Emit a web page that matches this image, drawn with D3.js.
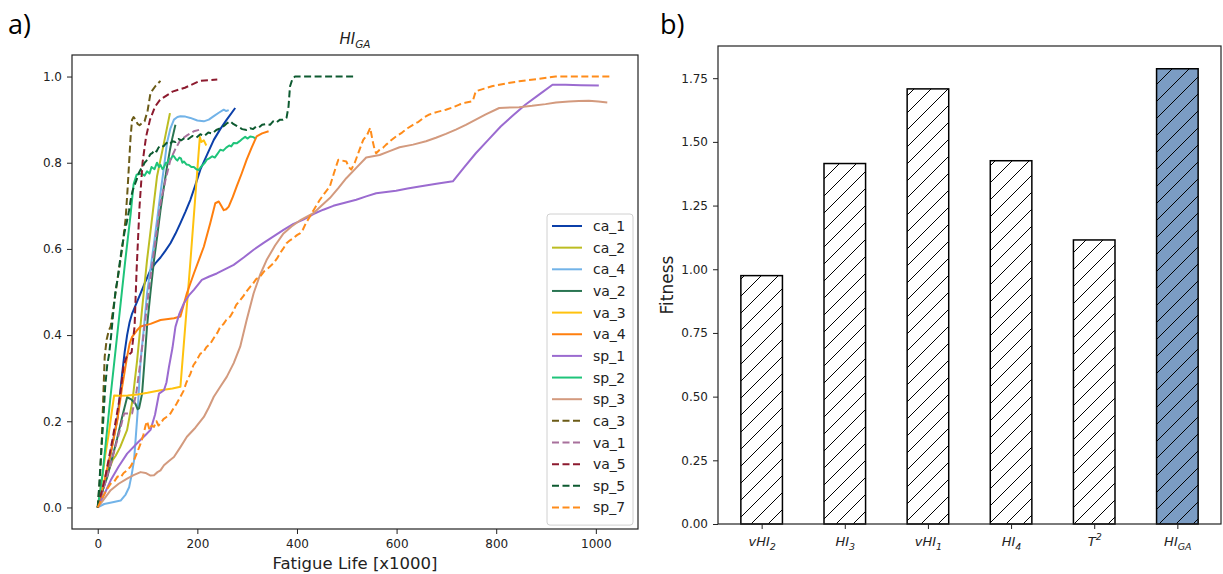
<!DOCTYPE html>
<html><head><meta charset="utf-8">
<script src="https://cdn.jsdelivr.net/npm/d3@7"></script>
<style>
body{margin:0;background:#fff}
svg{display:block}
text{font-family:"DejaVu Sans",sans-serif;fill:#222}
</style>
</head><body>
<svg id="chart" width="1223" height="574"></svg>
<script>
// ---------- DATA: panel a) ----------
const seriesNames = ["ca_1","ca_2","ca_4","va_2","va_3","va_4","sp_1","sp_2","sp_3","ca_3","va_1","va_5","sp_5","sp_7"];
const ca_1 = [[0,0],[10,0.04],[20,0.09],[30,0.15],[40,0.21],[49,0.31],[54,0.36],[59,0.40],[64,0.43],[69,0.45],[78,0.475],[86,0.497],[96,0.525],[106,0.551],[116,0.567],[126,0.58],[136,0.596],[146,0.613],[156,0.635],[166,0.66],[176,0.686],[186,0.714],[196,0.748],[206,0.784],[220,0.82],[233,0.853],[246,0.878],[259,0.90],[276,0.927]];
const ca_2 = [[0,0],[10,0.04],[20,0.08],[30,0.11],[36,0.12],[45,0.14],[59,0.18],[70,0.25],[79,0.34],[89,0.46],[99,0.574],[109,0.67],[119,0.768],[133,0.846],[145,0.915]];
const ca_4 = [[0,0],[13,0.008],[30,0.012],[46,0.016],[56,0.03],[63,0.047],[68,0.075],[73,0.11],[80,0.22],[86,0.34],[93,0.42],[99,0.497],[106,0.555],[113,0.613],[120,0.675],[126,0.73],[133,0.79],[139,0.846],[146,0.88],[153,0.9],[160,0.906],[166,0.908],[176,0.907],[186,0.904],[200,0.898],[213,0.896],[223,0.90],[233,0.908],[243,0.916],[253,0.923],[258,0.92],[263,0.922]];
const va_2 = [[0,0],[10,0.04],[19,0.07],[29,0.115],[39,0.16],[49,0.21],[59,0.256],[68,0.25],[76,0.24],[80,0.228],[83,0.23],[89,0.264],[94,0.34],[99,0.42],[106,0.5],[113,0.574],[120,0.635],[126,0.69],[133,0.745],[139,0.79],[145,0.83],[149,0.853],[156,0.888]];
const va_3 = [[0,0],[8,0.06],[15,0.12],[22,0.17],[28,0.22],[33,0.26],[45,0.259],[60,0.26],[80,0.262],[100,0.266],[126,0.272],[150,0.276],[166,0.28],[186,0.57],[205,0.86],[208,0.848],[213,0.852],[218,0.84]];
const va_4 = [[0,0],[13,0.06],[26,0.125],[39,0.2],[49,0.28],[59,0.35],[64,0.38],[69,0.396],[78,0.41],[86,0.42],[106,0.426],[126,0.435],[153,0.439],[166,0.443],[179,0.497],[193,0.543],[213,0.605],[226,0.66],[236,0.706],[243,0.71],[248,0.70],[253,0.69],[258,0.692],[263,0.698],[271,0.72],[279,0.745],[289,0.775],[299,0.807],[309,0.835],[319,0.861],[330,0.868],[343,0.873]];
const sp_1 = [[0,0],[13,0.03],[26,0.063],[42,0.095],[59,0.125],[80,0.15],[96,0.168],[106,0.18],[115,0.215],[123,0.264],[133,0.272],[138,0.29],[143,0.326],[150,0.37],[156,0.419],[164,0.45],[173,0.474],[183,0.492],[193,0.505],[209,0.528],[224,0.536],[239,0.543],[256,0.553],[273,0.563],[293,0.58],[313,0.598],[333,0.614],[353,0.629],[373,0.644],[393,0.658],[413,0.668],[433,0.681],[453,0.691],[473,0.70],[496,0.707],[519,0.714],[539,0.722],[559,0.729],[579,0.732],[599,0.735],[622,0.74],[646,0.745],[680,0.751],[713,0.757],[736,0.79],[759,0.822],[784,0.853],[809,0.884],[834,0.91],[859,0.935],[886,0.958],[913,0.981],[939,0.981],[970,0.98],[1006,0.979]];
const sp_2 = [[0,0],[10,0.08],[25,0.25],[40,0.41],[55,0.57],[66,0.68],[72,0.75],[78,0.772],[88,0.775],[94,0.77],[99,0.78],[104,0.775],[108,0.79],[114,0.785],[119,0.80],[123,0.79],[126,0.795],[130,0.785],[133,0.79],[137,0.80],[140,0.80],[144,0.81],[147,0.808],[150,0.816],[153,0.815],[157,0.808],[160,0.805],[164,0.812],[167,0.81],[170,0.80],[173,0.803],[178,0.796],[183,0.795],[188,0.79],[193,0.79],[198,0.785],[203,0.783],[207,0.79],[211,0.795],[215,0.80],[219,0.807],[224,0.81],[230,0.815],[235,0.812],[240,0.82],[243,0.825],[246,0.83],[252,0.828],[258,0.835],[264,0.84],[268,0.838],[273,0.846],[279,0.845],[285,0.85],[290,0.855],[296,0.86],[301,0.856],[306,0.861],[311,0.86],[316,0.857]];
const sp_3 = [[0,0],[13,0.02],[26,0.04],[42,0.055],[59,0.067],[72,0.075],[86,0.082],[96,0.08],[106,0.074],[113,0.075],[120,0.082],[126,0.086],[133,0.098],[143,0.108],[153,0.117],[166,0.14],[179,0.164],[196,0.185],[213,0.21],[223,0.232],[233,0.257],[246,0.28],[259,0.303],[273,0.335],[286,0.373],[299,0.435],[313,0.497],[326,0.54],[339,0.574],[356,0.608],[373,0.636],[389,0.652],[406,0.666],[433,0.683],[449,0.70],[466,0.718],[483,0.741],[499,0.764],[519,0.788],[539,0.812],[566,0.818],[586,0.827],[606,0.836],[633,0.842],[659,0.85],[679,0.858],[699,0.867],[719,0.877],[739,0.888],[759,0.90],[779,0.912],[806,0.927],[846,0.929],[872,0.932],[899,0.936],[920,0.94],[946,0.942],[966,0.943],[986,0.944],[1005,0.942],[1023,0.94]];
const ca_3 = [[0,0],[4,0.06],[8,0.15],[11,0.25],[14,0.35],[18,0.39],[22,0.41],[26,0.42],[31,0.46],[36,0.5],[41,0.54],[46,0.576],[51,0.62],[56,0.67],[60,0.74],[63,0.8],[66,0.86],[69,0.9],[72,0.906],[76,0.9],[80,0.89],[84,0.887],[90,0.893],[94,0.896],[100,0.92],[106,0.962],[116,0.978],[126,0.99]];
const va_1 = [[0,0],[13,0.05],[26,0.1],[40,0.16],[53,0.218],[60,0.218],[69,0.218],[78,0.27],[86,0.34],[96,0.44],[106,0.535],[116,0.62],[126,0.706],[136,0.76],[146,0.807],[156,0.832],[166,0.853],[180,0.864],[193,0.873],[206,0.877]];
const va_5 = [[0,0],[15,0.07],[30,0.16],[45,0.26],[52,0.33],[58,0.35],[68,0.36],[74,0.42],[78,0.55],[84,0.7],[90,0.8],[97,0.86],[105,0.9],[115,0.93],[125,0.946],[150,0.965],[175,0.974],[205,0.99],[240,0.993]];
const sp_5 = [[0,0],[3,0.05],[7,0.13],[11,0.2],[15,0.28],[19,0.33],[23,0.357],[27,0.4],[31,0.45],[36,0.505],[40,0.53],[45,0.575],[49,0.605],[54,0.64],[58,0.66],[63,0.69],[67,0.72],[70,0.735],[73,0.745],[78,0.76],[82,0.775],[86,0.784],[90,0.79],[94,0.8],[98,0.805],[102,0.812],[106,0.82],[110,0.823],[114,0.83],[118,0.826],[122,0.835],[126,0.84],[132,0.838],[138,0.846],[144,0.842],[150,0.85],[156,0.848],[162,0.855],[168,0.852],[175,0.858],[182,0.855],[190,0.862],[198,0.858],[206,0.866],[214,0.862],[222,0.87],[230,0.868],[238,0.876],[246,0.88],[254,0.886],[260,0.892],[266,0.896],[272,0.89],[278,0.886],[284,0.882],[290,0.878],[299,0.876],[306,0.88],[312,0.878],[318,0.884],[324,0.882],[330,0.888],[339,0.89],[346,0.888],[352,0.896],[358,0.893],[366,0.9],[372,0.9],[379,0.904],[383,0.93],[386,0.977],[391,0.995],[396,1.0],[450,1.0],[519,1.0]];
const sp_7 = [[0,0],[8,0.02],[15,0.035],[20,0.045],[26,0.055],[33,0.06],[40,0.072],[46,0.07],[52,0.08],[59,0.086],[66,0.095],[73,0.11],[80,0.13],[86,0.148],[92,0.17],[96,0.19],[99,0.2],[104,0.18],[108,0.19],[113,0.187],[118,0.2],[122,0.19],[126,0.195],[132,0.205],[138,0.21],[146,0.218],[152,0.23],[158,0.24],[166,0.257],[172,0.27],[178,0.29],[186,0.31],[192,0.33],[198,0.34],[206,0.357],[212,0.36],[218,0.372],[226,0.38],[234,0.395],[240,0.405],[246,0.419],[252,0.425],[258,0.435],[266,0.443],[272,0.455],[278,0.47],[286,0.481],[292,0.49],[298,0.5],[306,0.512],[312,0.52],[318,0.53],[326,0.536],[334,0.548],[342,0.555],[353,0.567],[360,0.578],[366,0.59],[372,0.6],[379,0.613],[386,0.62],[393,0.625],[400,0.632],[406,0.636],[412,0.645],[418,0.66],[426,0.675],[436,0.695],[446,0.714],[456,0.73],[466,0.745],[474,0.775],[483,0.807],[491,0.805],[499,0.803],[504,0.79],[509,0.784],[516,0.8],[524,0.825],[533,0.853],[541,0.865],[547,0.881],[552,0.85],[556,0.83],[559,0.822],[566,0.83],[573,0.835],[579,0.842],[589,0.852],[599,0.861],[611,0.87],[622,0.88],[633,0.888],[644,0.895],[655,0.905],[666,0.912],[682,0.918],[699,0.923],[712,0.928],[726,0.935],[740,0.94],[753,0.943],[756,0.955],[759,0.966],[776,0.972],[793,0.978],[820,0.984],[846,0.989],[880,0.994],[919,1.0],[970,1.0],[1033,1.0]];
const lineXTicks = [0,200,400,600,800,1000];
const lineYTicks = [0.0,0.2,0.4,0.6,0.8,1.0];

// ---------- DATA: panel b) ----------
const barLabelBase = ["vHI","HI","vHI","HI","T","HI"];
const barLabelSub  = ["2","3","1","4","","GA"];
const barLabelSup  = ["","","","","2",""];
const barValues    = [0.975, 1.415, 1.708, 1.426, 1.115, 1.787];
const barYTicks    = [0,0.25,0.5,0.75,1.0,1.25,1.5,1.75];

// ---------- styles ----------
const seriesData = [ca_1,ca_2,ca_4,va_2,va_3,va_4,sp_1,sp_2,sp_3,ca_3,va_1,va_5,sp_5,sp_7];
const seriesColors = ["#0b3fa9","#bcbd22","#72b3e8","#2a7552","#ffc20e","#ff7f0e","#9b6bd0","#1fc47a","#d39a7e","#6b5b17","#a8709c","#8c1a2e","#0d5a30","#ff8c1a"];
const seriesDashed = [false,false,false,false,false,false,false,false,false,true,true,true,true,true];

const svg = d3.select("#chart");

// panel labels
svg.append("text").attr("x",8).attr("y",34).style("font-family","'Open Sans',sans-serif").style("font-size","27px").style("fill","#000").text("a)");
svg.append("text").attr("x",660).attr("y",34).style("font-family","'Open Sans',sans-serif").style("font-size","27px").style("fill","#000").text("b)");

// ---------- panel a ----------
const A = {l:72, r:638, t:55, b:529};
const allX = seriesData.flat().map(d=>d[0]);
const xmin = d3.min(allX), xmax = d3.max(allX), xpad = (xmax-xmin)*0.05;
const xA = d3.scaleLinear().domain([xmin-xpad, xmax+xpad]).range([A.l, A.r]);
const yA = d3.scaleLinear().domain([-0.05, 1.05]).range([A.b, A.t]);

const gA = svg.append("g");
const clip = svg.append("clipPath").attr("id","clipA").append("rect").attr("x",A.l).attr("y",A.t).attr("width",A.r-A.l).attr("height",A.b-A.t);

const line = d3.line().x(d=>xA(d[0])).y(d=>yA(d[1]));
const linesG = gA.append("g").attr("clip-path","url(#clipA)");
seriesData.forEach((s,i)=>{
  linesG.append("path").datum(s).attr("d",line).attr("fill","none")
    .attr("stroke",seriesColors[i]).attr("stroke-width",2)
    .attr("stroke-linejoin","round")
    .attr("stroke-dasharray", seriesDashed[i] ? "7,3.5" : null);
});

const axA_x = gA.append("g").attr("transform",`translate(0,${A.b})`)
  .call(d3.axisBottom(xA).tickValues(lineXTicks).tickFormat(d3.format("d")).tickSize(5).tickPadding(5).tickSizeOuter(0));
const axA_y = gA.append("g").attr("transform",`translate(${A.l},0)`)
  .call(d3.axisLeft(yA).tickValues(lineYTicks).tickFormat(d3.format(".1f")).tickSize(5).tickPadding(5).tickSizeOuter(0));
[axA_x,axA_y].forEach(g=>{
  g.select(".domain").remove();
  g.selectAll("line").attr("stroke","#222");
  g.selectAll("text").style("font-size","12px").style("fill","#222");
});
gA.append("rect").attr("x",A.l).attr("y",A.t).attr("width",A.r-A.l).attr("height",A.b-A.t)
  .attr("fill","none").attr("stroke","#222").attr("stroke-width",1.2);

// title
const tA = gA.append("text").attr("x",(A.l+A.r)/2).attr("y",44).attr("text-anchor","middle")
  .style("font-size","15px").style("font-style","italic");
tA.append("tspan").text("HI");
tA.append("tspan").attr("dy",4).style("font-size","10.5px").text("GA");

gA.append("text").attr("x",(A.l+A.r)/2).attr("y",569).attr("text-anchor","middle")
  .style("font-size","16.5px").text("Fatigue Life [x1000]");

// legend
const leg = gA.append("g");
const L = {x:547, y:214, w:86, step:21.65};
leg.append("rect").attr("x",L.x).attr("y",L.y).attr("width",L.w).attr("height",L.step*seriesNames.length+8)
  .attr("rx",3).attr("fill","#fff").attr("fill-opacity",0.85).attr("stroke","#d0d0d0");
seriesNames.forEach((n,i)=>{
  const yy = L.y + 12 + i*L.step;
  leg.append("line").attr("x1",L.x+5).attr("x2",L.x+35).attr("y1",yy).attr("y2",yy)
    .attr("stroke",seriesColors[i]).attr("stroke-width",2)
    .attr("stroke-dasharray", seriesDashed[i] ? "7,3.5" : null);
  leg.append("text").attr("x",L.x+46).attr("y",yy+5).style("font-size","14px").text(n);
});

// ---------- panel b ----------
const B = {l:718, r:1221, t:46, b:524};
const xB = d3.scaleLinear().domain([-0.525, barValues.length-1+0.525]).range([B.l, B.r]);
const yB = d3.scaleLinear().domain([0, d3.max(barValues)*1.05]).range([B.b, B.t]);
const gB = svg.append("g");

const defs = svg.append("defs");
function hatch(id, bg){
  const p = defs.append("pattern").attr("id",id).attr("patternUnits","userSpaceOnUse")
    .attr("width",17).attr("height",17);
  p.append("rect").attr("width",17).attr("height",17).attr("fill",bg);
  p.append("path").attr("d","M0,17 L17,0 M-3,3 L3,-3 M14,20 L20,14")
    .attr("stroke","#000").attr("stroke-width",1);
}
hatch("hatchW","#fff");
hatch("hatchB","#7b9cc3");

const bw = 0.5;
barValues.forEach((v,i)=>{
  gB.append("rect")
    .attr("x",xB(i-bw/2)).attr("width",xB(i+bw/2)-xB(i-bw/2))
    .attr("y",yB(v)).attr("height",yB(0)-yB(v))
    .attr("fill", i===barValues.length-1 ? "url(#hatchB)" : "url(#hatchW)")
    .attr("stroke","#000").attr("stroke-width",1.5);
});

const axB_y = gB.append("g").attr("transform",`translate(${B.l},0)`)
  .call(d3.axisLeft(yB).tickValues(barYTicks).tickFormat(d3.format(".2f")).tickSize(5).tickPadding(5).tickSizeOuter(0));
const axB_x = gB.append("g").attr("transform",`translate(0,${B.b})`)
  .call(d3.axisBottom(xB).tickValues(d3.range(barValues.length)).tickFormat(()=>"").tickSize(5).tickPadding(5).tickSizeOuter(0));
[axB_x,axB_y].forEach(g=>{
  g.select(".domain").remove();
  g.selectAll("line").attr("stroke","#222");
  g.selectAll("text").style("font-size","12px").style("fill","#222");
});
axB_x.selectAll(".tick").each(function(d,i){
  const t = d3.select(this).select("text").style("font-size","13px").style("font-style","italic").attr("y",22).attr("dy",null);
  t.append("tspan").text(barLabelBase[i]);
  if(barLabelSub[i]) t.append("tspan").attr("dy",4).style("font-size","9.5px").text(barLabelSub[i]);
  if(barLabelSup[i]) t.append("tspan").attr("dy",-6).style("font-size","9.5px").text(barLabelSup[i]);
});
gB.append("rect").attr("x",B.l).attr("y",B.t).attr("width",B.r-B.l).attr("height",B.b-B.t)
  .attr("fill","none").attr("stroke","#222").attr("stroke-width",1.2);

gB.append("text").attr("transform",`translate(673,${(B.t+B.b)/2}) rotate(-90)`).attr("text-anchor","middle")
  .style("font-size","17px").text("Fitness");
</script>
</body></html>
